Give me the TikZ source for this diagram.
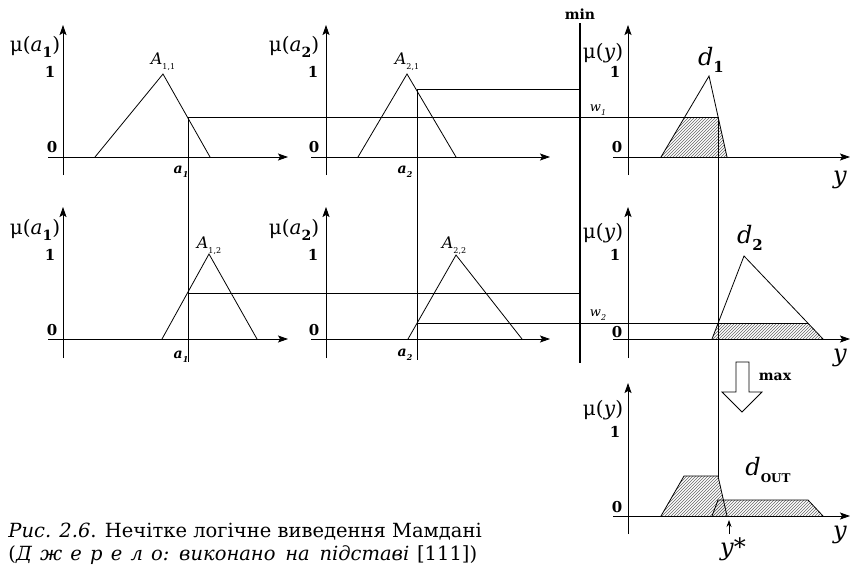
\documentclass[tikz,border=0pt]{standalone}
\usepackage{fontspec}
\setmainfont{DejaVu Serif}
\usetikzlibrary{arrows.meta,patterns}
\newcommand\mysub[2]{\raisebox{-0.3em}{\fontsize{#1}{#1}\selectfont #2}}
\newcommand\myaxes[5]{%
  \draw[ax] (#1,#4) -- (#1,#3);
  \draw[ax] (#1-15,#2) -- (#5,#2);}
\begin{document}
\begin{tikzpicture}[x=1pt,y=-1pt,line width=0.8pt,
  ax/.style={-{Stealth[length=10pt,width=7pt,inset=2pt]}},
  hatch/.style={pattern=north east lines,pattern color=black!60},
  mulab/.style={inner sep=0.5pt,fill=white,font=\fontsize{20}{20}\selectfont},
  numlab/.style={inner sep=0pt,font=\fontsize{15}{15}\selectfont\bfseries},
  Alab/.style={inner sep=0pt,font=\fontsize{16}{16}\selectfont\itshape},
  alab/.style={inner sep=0pt,font=\fontsize{14}{14}\selectfont\bfseries\itshape},
  biglab/.style={inner sep=0pt,font=\fontsize{24}{24}\selectfont\itshape},
  oplab/.style={inner sep=0pt,font=\fontsize{14}{14}\selectfont\bfseries},
  caplab/.style={inner sep=0pt,anchor=west,font=\fontsize{19.5}{19.5}\selectfont}]
\useasboundingbox (0,0) rectangle (850,566);
% hatched areas
\fill[hatch] (661,157) -- (685,117) -- (718,117) -- (727,157) -- cycle;
\fill[hatch] (712,339) -- (718,323) -- (808,323) -- (823,339) -- cycle;
\fill[hatch] (661,516) -- (684,476) -- (718,476) -- (727,516) -- cycle;
\fill[hatch] (712,516) -- (718,500) -- (808,500) -- (823,516) -- cycle;
% axes
\myaxes{63}{157}{25}{175}{288}
\myaxes{326}{157}{25}{175}{550}
\myaxes{628}{157}{25}{175}{850}
\myaxes{63}{339}{207}{358}{288}
\myaxes{326}{339}{207}{358}{550}
\myaxes{628}{339}{207}{358}{850}
\myaxes{628}{516}{383}{534}{850}
% membership functions
\draw (95,157) -- (163,74) -- (210,157);
\draw (358,157) -- (407,74) -- (456,157);
\draw (661,157) -- (709,76) -- (727,157);
\draw (162,339) -- (209,254) -- (257,339);
\draw (408,339) -- (456,255) -- (522,339);
\draw (712,339) -- (744,256) -- (823,339);
\draw (661,516) -- (684,476) -- (718,476) -- (727,516);
\draw (712,516) -- (718,500) -- (808,500) -- (823,516);
% inputs and levels
\coordinate (a1t) at (188,117);
\coordinate (a1b) at (188,362);
\coordinate (a2t) at (417,89);
\coordinate (a2b) at (417,360);
\draw (a1t) -- (a1b);
\draw (a2t) -- (a2b);
\draw (a1t) -- (718,117);
\draw (a2t) -- (580,89);
\draw (188,293) -- (580,293);
\draw (417,323) -- (808,323);
\draw (718,117) -- (718,477);
% max arrow
\draw[fill=white] (736,362) -- (749,362) -- (749,392) -- (762,392) -- (742,412) -- (722,392) -- (736,392) -- cycle;
\node[oplab] (max) at (775,377) {max};
% y* arrow
\coordinate (ys) at (729,534);
\coordinate (yt) at (729,520);
\draw[-{Stealth[length=7pt,width=5pt]}] (ys) -- (yt);
\node[biglab] (ystar) at (733,549) {y*};
% labels
\node[mulab] (m11) at (35,47) {μ(\textit{a}\mysub{14}{\bfseries 1})};
\node[mulab] (m12) at (294,47) {μ(\textit{a}\mysub{14}{\bfseries 2})};
\node[mulab] (m13) at (603,53) {μ(\textit{y})};
\node[mulab] (m21) at (35,230) {μ(\textit{a}\mysub{14}{\bfseries 1})};
\node[mulab] (m22) at (294,230) {μ(\textit{a}\mysub{14}{\bfseries 2})};
\node[mulab] (m23) at (603,233) {μ(\textit{y})};
\node[mulab] (m33) at (603,410) {μ(\textit{y})};
\foreach \n/\x/\y in {o11/50/72,o12/313/72,o13/615/72,o21/50/255,o22/313/255,o23/615/255,o33/615/432}
  \node[numlab] (\n) at (\x,\y) {1};
\foreach \n/\x/\y in {z11/52/147,z12/314/147,z13/617/147,z21/52/330,z22/314/330,z23/617/332,z33/617/507}
  \node[numlab] (\n) at (\x,\y) {0};
\node[Alab] (A11) at (163,62) {A\mysub{8}{\upshape 1,1}};
\node[Alab] (A21) at (407,62) {A\mysub{8}{\upshape 2,1}};
\node[Alab] (A12) at (209,246) {A\mysub{8}{\upshape 1,2}};
\node[Alab] (A22) at (454,246) {A\mysub{8}{\upshape 2,2}};
\node[alab] (la11) at (181,172) {a\mysub{8}{1}};
\node[alab] (la21) at (181,357) {a\mysub{8}{1}};
\node[alab] (la12) at (405,172) {a\mysub{8}{2}};
\node[alab] (la22) at (405,355) {a\mysub{8}{2}};
\node[inner sep=0pt,font=\fontsize{13}{13}\selectfont\itshape] (w1) at (598,110) {w\mysub{8}{1}};
\node[inner sep=0pt,font=\fontsize{13}{13}\selectfont\itshape] (w2) at (598,315) {w\mysub{8}{2}};
\node[biglab] (d1) at (711,60) {d\mysub{15}{\upshape\bfseries 1}};
\node[biglab] (d2) at (750,238) {d\mysub{15}{\upshape\bfseries 2}};
\node[biglab] (dout) at (768,470) {d\mysub{12}{\upshape\bfseries OUT}};
\node[biglab] (y1) at (840,180) {y};
\node[biglab] (y2) at (840,358) {y};
\node[biglab] (y3) at (840,535) {y};
% min line
\node[oplab] (min) at (580,14) {min};
\draw[line width=1.8pt] (580,23) -- (580,363);
% caption
\node[caplab] (cap1) at (8,532) {\textit{Рис. 2.6}. Нечітке логічне виведення Мамдані};
\node[caplab] (cap2) at (8,555) {(\textit{Д\hspace{0.42em}ж\hspace{0.42em}е\hspace{0.42em}р\hspace{0.42em}е\hspace{0.42em}л\hspace{0.42em}о:\hspace{0.5em}виконано\hspace{0.5em}на\hspace{0.5em}підставі}\hspace{0.4em}[111])};
\end{tikzpicture}
\end{document}
